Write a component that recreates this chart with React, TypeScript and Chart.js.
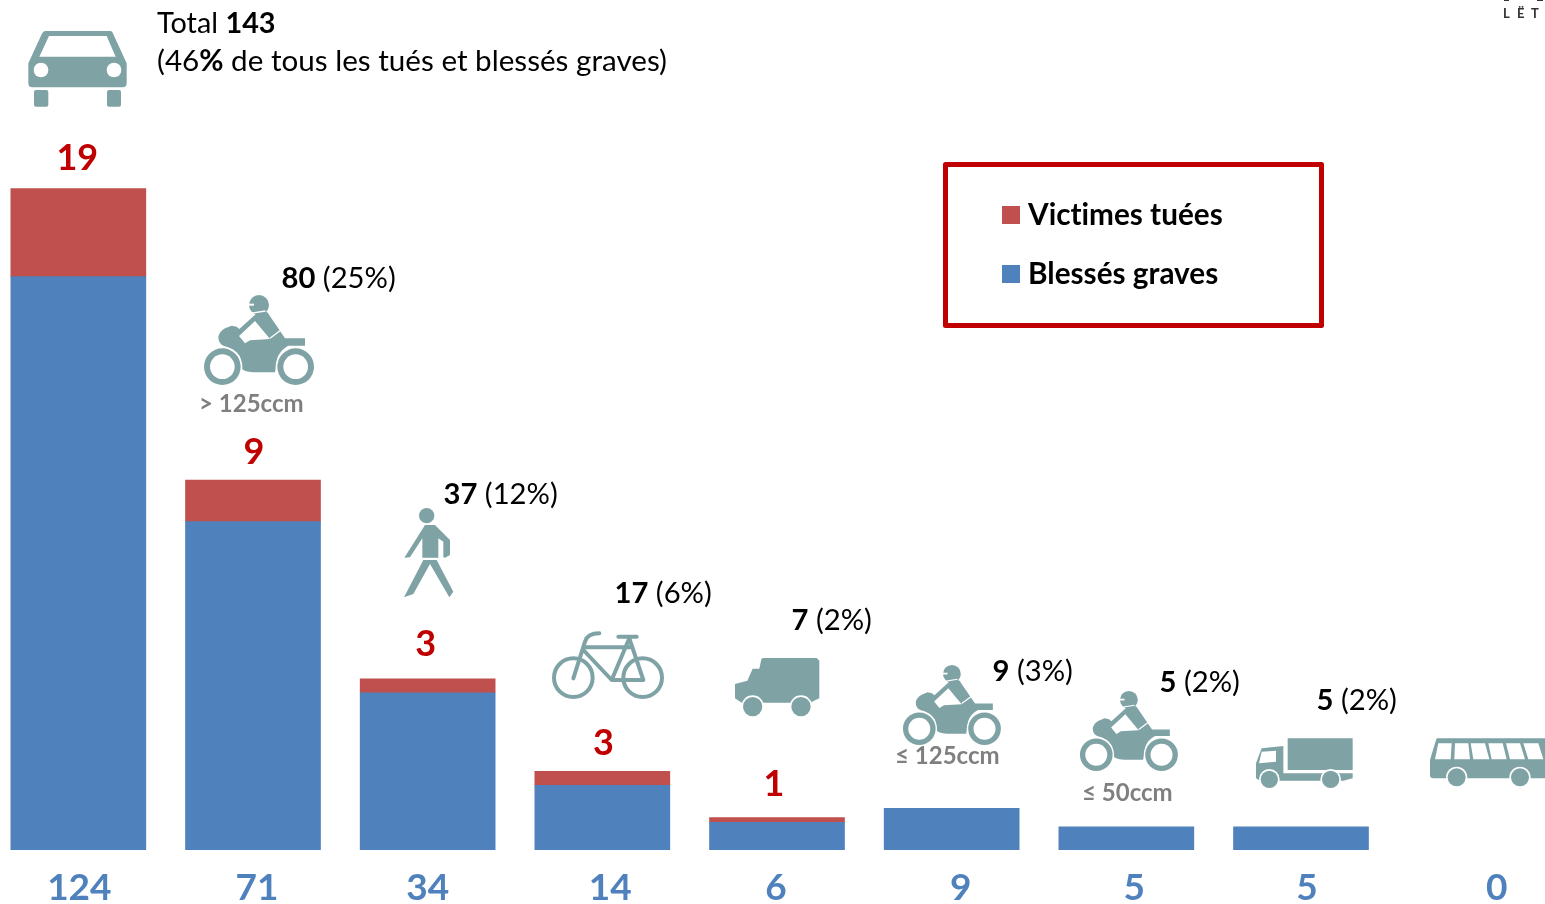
import React, { useEffect, useRef } from "react";
import { Chart, registerables } from "chart.js";

Chart.register(...registerables);

// ---- data ----
const tickLabels = ["124", "71", "34", "14", "6", "9", "5", "5", "0"];
const injured = [124, 71, 34, 14, 6, 9, 5, 5, 0];
const killed = [19, 9, 3, 3, 1, 0, 0, 0, 0];
const seriesNames = ["Victimes tuées", "Blessés graves"];
const groupTotals = ["80", "37", "17", "7", "9", "5", "5"];
const groupShares = [" (25%)", " (12%)", " (6%)", " (2%)", " (3%)", " (2%)", " (2%)"];
const classLabels = ["> 125ccm", "≤ 125ccm", "≤ 50ccm"];

// ---- layout / style ----
const FONT = "Lato, sans-serif";
const RED = "#C0504D";
const BLUE = "#4F81BD";
const DARKRED = "#C00000";
const TEAL = "#7FA3A5";
const GREY = "#7F7F7F";
const tickNudge = [1, 4, 0, 8, -1, 9, 8, 6, 21];
const killedNudgeX = [-1, 1, -2, 1, -3];
const killedGap = [30, 28, 34, 28, 33];
const groupPos = [[281.5, 288], [443.5, 504], [614.5, 603], [791.5, 630], [992.5, 681], [1159.5, 692], [1316.5, 710]];
const classPos = [[199, 412], [895, 764], [1082, 801]];

const MOTO = "M85,245 Q88,230 105,220 L125,212 L140,215 L148,222 L200,175 Q215,168 232,172 L285,250 H345 V272 H295 Q270,285 262,310 L255,352 L190,352 Q160,350 155,340 L150,305 Q135,280 100,272 Q85,265 85,245 Z M147,243 L195,198 L240,252 L180,256 L165,265 Z";
const CAR = "M135,93 H330 Q337,93 340,103 L380,190 V250 Q380,262 368,262 H97 Q85,262 85,250 V190 L125,103 Q130,93 135,93 Z M147,108 L118,170 H347 L320,108 Z";
const PED = "M105,165 H135 L180,210 V255 L165,263 L160,262 V215 L145,205 V263 H97 V205 L60,262 L43,263 Z M100,270 H140 L190,365 L178,382 L120,282 L70,372 L42,382 Z";
const VAN = "M585,342 L622,332 L638,296 H658 L664,268 Q666,264 672,264 H830 L838,272 V385 L810,398 H605 L585,385 Z";
const TRUCK = "M143,175 H338 V270 H143 Z M48,295 V250 L65,205 L130,198 V280 H338 V295 L310,302 H60 Z M65,215 L108,212 V245 L57,250 Z";
const BUS = "M590,175 H915 V295 H580 Q570,295 570,285 V240 L585,190 Z M595,190 H635 L632,238 H585 Z M645,190 H685 L690,238 H643 Z M692,190 H735 L748,238 H700 Z M745,190 H788 L800,238 H755 Z M798,190 H840 L855,238 H810 Z M850,190 H895 L910,238 H865 Z";

function icon(ctx: any, ox: number, oy: number, s: number, fn: () => void) {
  ctx.save();
  ctx.translate(ox, oy);
  ctx.scale(s / 3, s / 3);
  ctx.fillStyle = TEAL;
  ctx.strokeStyle = TEAL;
  fn();
  ctx.restore();
}
function disc(ctx: any, x: number, y: number, r: number, color: string) {
  ctx.fillStyle = color;
  ctx.beginPath();
  ctx.arc(x, y, r, 0, Math.PI * 2);
  ctx.fill();
}
function wheel(ctx: any, x: number, y: number, r: number, ring: number) {
  disc(ctx, x, y, r + ring, "#fff");
  disc(ctx, x, y, r, TEAL);
}
function moto(ctx: any, ox: number, oy: number, s: number) {
  icon(ctx, ox, oy, s, () => {
    ctx.fillStyle = TEAL;
    ctx.fill(new Path2D(MOTO), "evenodd");
    disc(ctx, 207, 150, 30, TEAL);
    ctx.fillStyle = "#fff";
    ctx.fillRect(174, 146, 18, 6);
    ctx.strokeStyle = "#fff";
    ctx.lineWidth = 4;
    ctx.beginPath();
    ctx.moveTo(240, 250);
    ctx.lineTo(272, 226);
    ctx.stroke();
    ctx.beginPath();
    ctx.moveTo(176, 176);
    ctx.lineTo(226, 168);
    ctx.stroke();
    for (const x of [97, 317]) {
      wheel(ctx, x, 335, 55, 5);
      disc(ctx, x, 335, 37, "#fff");
    }
  });
}

function rich(ctx: any, x: number, y: number, size: number, runs: [string, boolean][], color = "#000") {
  ctx.fillStyle = color;
  ctx.textAlign = "left";
  ctx.textBaseline = "alphabetic";
  ctx.letterSpacing = "0.01px"; // keeps the "ti" pair from joining as a ligature
  for (const [t, bold] of runs) {
    ctx.font = `${bold ? "bold " : ""}${size}px ${FONT}`;
    ctx.fillText(t, x, y);
    x += ctx.measureText(t).width;
  }
  ctx.letterSpacing = "0px";
}

const overlay = {
  id: "overlay",
  afterDatasetsDraw(chart: any) {
    const { ctx, scales } = chart;
    ctx.save();
    // killed counts over the bars
    ctx.textAlign = "center";
    ctx.textBaseline = "middle";
    ctx.font = `bold 36px ${FONT}`;
    ctx.fillStyle = DARKRED;
    killed.forEach((v, i) => {
      if (!v) return;
      const x = scales.x.getPixelForValue(i) + killedNudgeX[i];
      const y = scales.y.getPixelForValue(v + injured[i]) - killedGap[i];
      ctx.fillText(String(v), x, y);
    });
    // everything below is placed in page pixels
    ctx.translate(CANVAS_LEFT, 0);
    // header
    rich(ctx, 157, 33, 28.8, [["Total ", false], ["143", true]]);
    rich(ctx, 157, 71, 29.6, [["(46", false], ["%", true], [" de tous les tués et blessés graves)", false]]);
    // group notes
    groupTotals.forEach((t, i) => {
      rich(ctx, groupPos[i][0], groupPos[i][1], 29.2, [[t, true], [groupShares[i], false]]);
    });
    classLabels.forEach((t, i) => {
      rich(ctx, classPos[i][0], classPos[i][1], 24, [[t, true]], GREY);
    });
    // legend box
    ctx.strokeStyle = DARKRED;
    ctx.lineWidth = 5;
    ctx.lineJoin = "round";
    ctx.strokeRect(945.5, 164.5, 376, 161);
    const swatches = [RED, BLUE];
    const legendY = [[206, 225], [265, 284]];
    swatches.forEach((c, i) => {
      ctx.fillStyle = c;
      ctx.fillRect(1002, legendY[i][0], 18, 18);
      rich(ctx, 1028, legendY[i][1], 29.7, [[seriesNames[i], true]]);
    });
    // corner logo fragment
    ctx.fillStyle = "#333";
    ctx.fillRect(1504, 0, 5, 1);
    ctx.fillRect(1537, 0, 6, 1);
    ctx.font = `bold 13px ${FONT}`;
    ctx.textBaseline = "alphabetic";
    ctx.textAlign = "left";
    ctx.fillStyle = "#333";
    ctx.fillText("L", 1503, 18);
    ctx.fillText("Ë", 1517, 18);
    ctx.fillText("T", 1531, 18);

    // icons
    icon(ctx, 0, 0, 1, () => {
      ctx.fill(new Path2D(CAR), "evenodd");
      disc(ctx, 123, 210, 22, "#fff");
      disc(ctx, 342, 210, 22, "#fff");
      ctx.fillStyle = TEAL;
      ctx.beginPath();
      ctx.roundRect(102, 270, 43, 50, 6);
      ctx.roundRect(321, 270, 42, 50, 6);
      ctx.fill();
    });
    moto(ctx, 190, 255, 1);
    moto(ctx, 890.5, 629.4, 0.89);
    moto(ctx, 1067.5, 655.4, 0.89);
    icon(ctx, 390, 470, 1, () => {
      disc(ctx, 110, 137, 23, TEAL);
      ctx.fillStyle = TEAL;
      ctx.fill(new Path2D(PED));
    });
    icon(ctx, 540, 570, 1, () => {
      ctx.lineWidth = 12;
      ctx.lineCap = "round";
      ctx.lineJoin = "round";
      for (const x of [100, 308]) {
        ctx.beginPath();
        ctx.arc(x, 323, 58, 0, Math.PI * 2);
        ctx.stroke();
      }
      ctx.stroke(new Path2D("M100,325 L135,215 Q142,190 178,190 M130,232 H270 M130,240 L215,330 H310 L268,205 M268,205 L215,330 M235,200 H290"));
    });
    icon(ctx, 540, 570, 1, () => {
      ctx.fill(new Path2D(VAN));
      wheel(ctx, 638, 410, 29, 5);
      wheel(ctx, 783, 410, 29, 5);
    });
    icon(ctx, 1240, 680, 1, () => {
      ctx.fill(new Path2D(TRUCK), "evenodd");
      wheel(ctx, 88, 298, 26, 5);
      wheel(ctx, 272, 298, 26, 5);
    });
    icon(ctx, 1240, 680, 1, () => {
      ctx.fill(new Path2D(BUS), "evenodd");
      wheel(ctx, 650, 292, 27, 5);
      wheel(ctx, 840, 292, 27, 5);
    });
    ctx.restore();
  },
};

const CANVAS_LEFT = 9;
const hideZero = (color: string) => (c: any) => (c.raw === 0 ? "rgba(0,0,0,0)" : color);

export default function App() {
  const ref = useRef<HTMLCanvasElement | null>(null);
  useEffect(() => {
    document.body.style.margin = "0";
    document.body.style.overflow = "hidden";
    const chart = new Chart(ref.current as any, {
      type: "bar",
      data: {
        labels: tickLabels,
        datasets: [
          { label: seriesNames[1], data: injured, backgroundColor: hideZero(BLUE), stack: "a", barThickness: 135, borderWidth: 0 },
          { label: seriesNames[0], data: killed, backgroundColor: hideZero(RED), stack: "a", barThickness: 135, borderWidth: 0 },
        ],
      },
      options: {
        responsive: false,
        animation: false,
        layout: { padding: 0 },
        plugins: { legend: { display: false }, tooltip: { enabled: false } },
        scales: {
          x: {
            stacked: true,
            grid: { display: false, drawTicks: false },
            border: { display: false },
            afterFit: (s: any) => { s.height = 54; },
            afterBuildTicks: (s: any) => {
              const base = s.getPixelForValue.bind(s);
              s.getPixelForTick = (i: number) => base(s.ticks[i].value) + tickNudge[i];
            },
            ticks: {
              autoSkip: false,
              maxRotation: 0,
              padding: 16,
              color: BLUE,
              font: { family: FONT, size: 37, weight: "bold" },
            },
          },
          y: { stacked: true, display: false, min: 0, max: 183.8 },
        },
      },
      plugins: [overlay],
    } as any);
    return () => chart.destroy();
  }, []);
  return (
    <div style={{ position: "relative", width: 1545, height: 904, overflow: "hidden", background: "#fff" }}>
      <canvas ref={ref} width={1572} height={904} style={{ position: "absolute", left: -CANVAS_LEFT, top: 0, width: 1572, height: 904 }} />
    </div>
  );
}
